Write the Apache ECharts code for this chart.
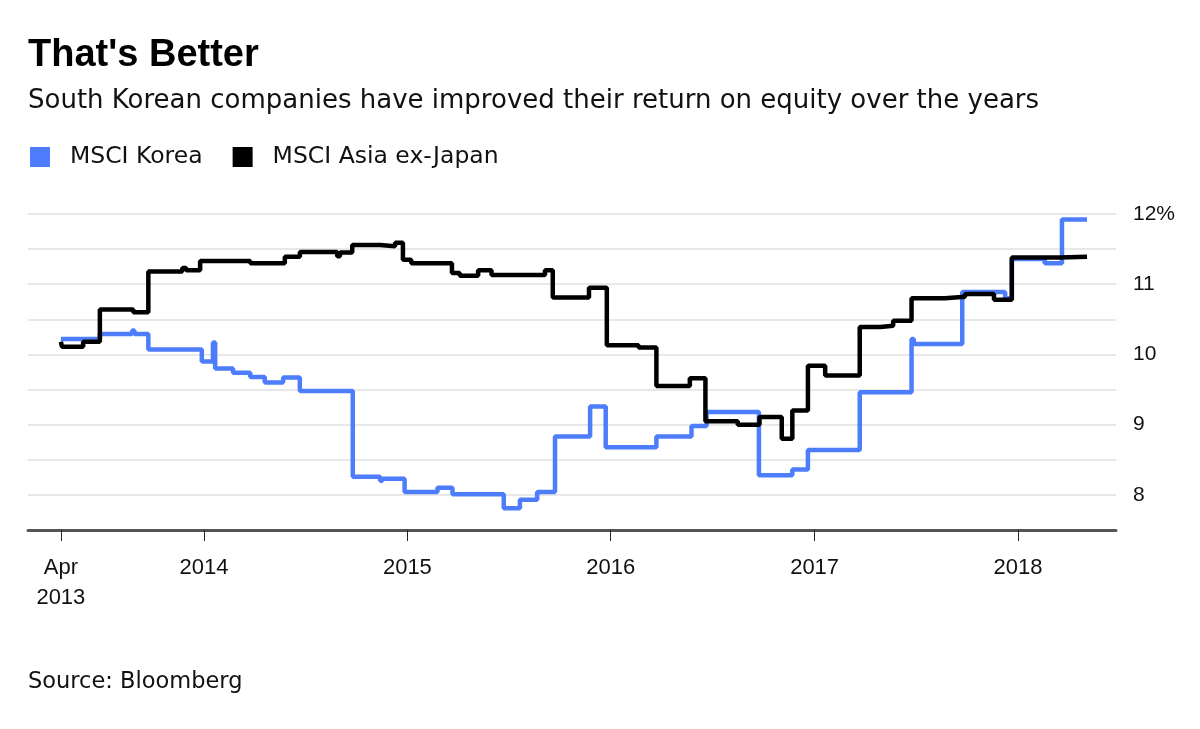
<!DOCTYPE html>
<html>
<head>
<meta charset="utf-8">
<script src="https://cdn.jsdelivr.net/npm/echarts@6/dist/echarts.min.js"></script>
<style>
html,body{margin:0;padding:0;background:#fff;}
#chart{width:1200px;height:729px;}
</style>
</head>
<body>
<div id="chart"></div>
<script>
// ---- Data ----
const seriesNames = ['MSCI Korea', 'MSCI Asia ex-Japan'];

const koreaDates = ['2013-04-19','2013-06-28','2013-08-25','2013-08-29','2013-09-23','2013-12-28','2014-01-17','2014-01-21','2014-02-22','2014-03-25','2014-04-20','2014-05-23','2014-06-22','2014-09-25','2014-11-13','2014-11-17','2014-12-27','2015-02-24','2015-03-23','2015-06-23','2015-07-22','2015-08-22','2015-09-23','2015-11-25','2015-12-23','2016-03-23','2016-05-25','2016-06-21','2016-09-23','2016-11-22','2016-12-20','2017-03-23','2017-06-24','2017-06-28','2017-09-23','2017-12-09','2017-12-21','2018-02-18','2018-03-21','2018-05-05'];
const koreaValues = [10.22,10.29,10.34,10.29,10.07,9.90,10.17,9.80,9.74,9.68,9.60,9.67,9.48,8.26,8.20,8.23,8.04,8.10,8.01,7.81,7.93,8.04,8.83,9.26,8.68,8.83,8.98,9.18,8.28,8.36,8.64,9.46,10.22,10.15,10.89,10.80,11.36,11.30,11.92,11.92];

const asiaDates = ['2013-04-19','2013-04-21','2013-05-29','2013-06-28','2013-08-27','2013-09-23','2013-11-23','2013-11-30','2013-12-25','2014-03-25','2014-05-26','2014-06-22','2014-08-28','2014-09-02','2014-09-24','2014-11-13','2014-12-10','2014-12-24','2015-01-08','2015-03-22','2015-04-05','2015-05-08','2015-06-01','2015-09-05','2015-09-19','2015-11-23','2015-12-25','2016-02-20','2016-03-23','2016-05-22','2016-06-19','2016-08-16','2016-09-24','2016-11-03','2016-11-22','2016-12-20','2017-01-20','2017-03-23','2017-04-29','2017-05-22','2017-06-24','2017-08-23','2017-09-28','2017-11-19','2017-12-21','2018-03-17','2018-05-05'];
const asiaValues = [10.18,10.11,10.18,10.64,10.60,11.18,11.23,11.20,11.33,11.30,11.39,11.46,11.40,11.45,11.56,11.54,11.59,11.35,11.30,11.16,11.12,11.20,11.13,11.20,10.81,10.95,10.13,10.10,9.55,9.66,9.05,9.00,9.11,8.80,9.20,9.84,9.70,10.39,10.41,10.48,10.80,10.82,10.86,10.78,11.38,11.39,11.39];

const xTickDates = ['2013-04-19','2014-01-01','2015-01-01','2016-01-01','2017-01-01','2018-01-01'];
const xTickLabels = ['Apr\n2013','2014','2015','2016','2017','2018'];
const yTickValues = [8, 9, 10, 11, 12];
const yTickLabels = ['8', '9', '10', '11', '12%'];

// ---- Build ----
const ts = d => new Date(d + 'T00:00:00Z').getTime();
const pairs = (ds, vs) => ds.map((d, i) => [ts(d), vs[i]]);
const tickTs = xTickDates.map(ts);

const FONT = '"Liberation Sans", Arial, sans-serif';
const FONT2 = '"DejaVu Sans", sans-serif';
const chart = echarts.init(document.getElementById('chart'), null, {renderer: 'canvas'});

chart.setOption({
  animation: false,
  backgroundColor: '#ffffff',
  title: [
    {text: "That's Better", left: 28, top: 37, padding: 0,
     textStyle: {fontFamily: FONT, fontWeight: 'bold', fontSize: 38, color: '#000'}},
    {text: 'South Korean companies have improved their return on equity over the years', left: 28, top: 88, padding: 0,
     textStyle: {fontFamily: FONT2, fontWeight: 'normal', fontSize: 26, color: '#111'}},
    {text: 'Source: Bloomberg', left: 28, top: 671, padding: 0,
     textStyle: {fontFamily: FONT2, fontWeight: 'normal', fontSize: 22.5, color: '#111'}}
  ],
  legend: {
    left: 30, top: 145, padding: 0, itemWidth: 20, itemHeight: 20, itemGap: 30, icon: 'rect',
    data: seriesNames,
    textStyle: {fontFamily: FONT2, fontSize: 23.5, color: '#111', padding: [0, 0, 0, 15]}
  },
  grid: {left: 28, right: 84, top: 214, bottom: 199, containLabel: false},
  xAxis: {
    type: 'value',
    min: ts('2013-02-19'),
    max: ts('2018-06-26'),
    axisLine: {show: true, lineStyle: {color: '#555', width: 3}},
    axisTick: {show: true, customValues: tickTs, length: 11, lineStyle: {color: '#222', width: 1}},
    axisLabel: {
      customValues: tickTs,
      margin: 23,
      fontFamily: FONT, fontSize: 22, color: '#111', lineHeight: 30,
      formatter: function (v) {
        const i = tickTs.indexOf(v);
        return i >= 0 ? xTickLabels[i] : '';
      }
    },
    splitLine: {show: false}
  },
  yAxis: {
    type: 'value',
    position: 'right',
    min: 7.5, max: 12, interval: 0.5,
    axisLine: {show: false},
    axisTick: {show: false},
    axisLabel: {
      margin: 17, fontFamily: FONT, fontSize: 21, color: '#111',
      formatter: function (v) {
        const i = yTickValues.indexOf(v);
        return i >= 0 ? yTickLabels[i] : '';
      }
    },
    splitLine: {show: true, lineStyle: {color: '#e8e8e8', width: 2}}
  },
  series: [
    {name: seriesNames[0], type: 'line', step: 'end', showSymbol: false, data: pairs(koreaDates, koreaValues),
     color: '#4d7dfb', lineStyle: {color: '#4d7dfb', width: 4.5}},
    {name: seriesNames[1], type: 'line', step: 'end', showSymbol: false, data: pairs(asiaDates, asiaValues),
     color: '#000000', lineStyle: {color: '#000000', width: 4.5}}
  ]
});
</script>
</body>
</html>
